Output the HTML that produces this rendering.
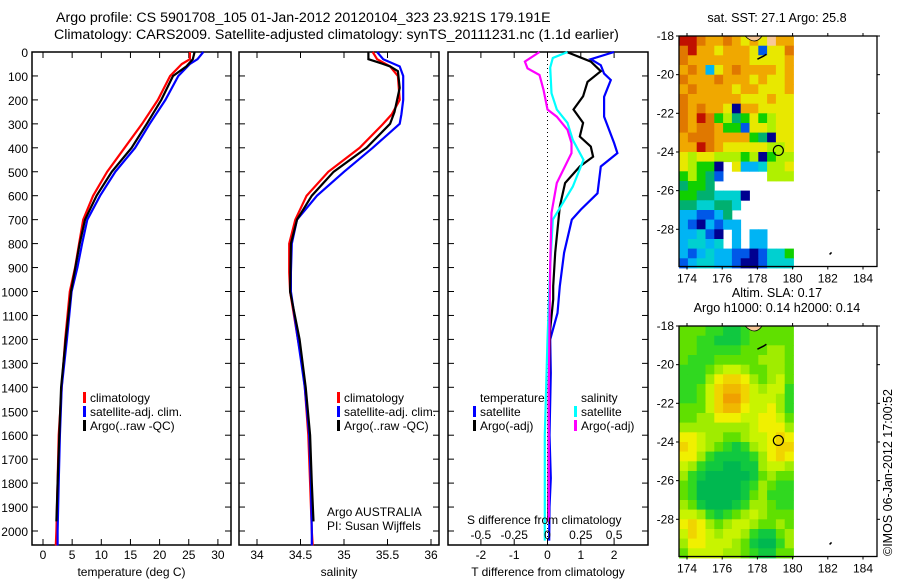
<!DOCTYPE html>
<html><head><meta charset="utf-8">
<style>
html,body{margin:0;padding:0;background:#fff;}
svg{display:block;font-family:"Liberation Sans",sans-serif;}
text{font-size:12px;fill:#000;}
</style></head>
<body>
<svg id="fig" width="900" height="580" viewBox="0 0 900 580" xmlns="http://www.w3.org/2000/svg">
<text x="56" y="22" style="font-size:14.2px">Argo profile: CS 5901708_105 01-Jan-2012 20120104_323 23.921S 179.191E</text>
<text x="54" y="39" style="font-size:14.2px">Climatology: CARS2009. Satellite-adjusted climatology: synTS_20111231.nc (1.1d earlier)</text>
<g id="g1"></g>
<g id="g2"></g>
<g id="g3"></g>
<g id="m1"></g>
<g id="m2"></g>
<text transform="translate(892,556) rotate(-90)" style="font-size:12.5px">©IMOS 06-Jan-2012 17:00:52</text>
</svg>
<script>
// ---- profile data (depth m) ----
const tDepth=[0,30,50,100,200,300,400,500,600,700,800,900,1000,1200,1400,1600,1800,2000,2060];
const tClim=[25.2,25.2,23.8,21.8,19.7,17,14,11,8.6,6.9,6.2,5.5,4.6,3.8,3.2,2.7,2.5,2.3,2.2];
const tSat=[27.5,26.5,25.2,23.2,21,18.3,15.8,12.4,9.8,7.6,6.7,5.9,4.9,4.1,3.2,2.9,2.7,2.5,2.5];
const argoDepth=[0,30,60,100,200,300,400,500,600,700,800,1000,1200,1400,1600,1800,1960];
const tArgo=[26,25.7,24.6,22.3,20.3,17.8,15.2,11.8,9.2,7.2,6.3,4.8,3.9,3.1,2.8,2.5,2.3];
const sDepth=[0,30,60,100,200,260,300,400,500,600,700,800,920,1000,1200,1300,1400,1600,1800,2000,2060];
const sClim=[35.33,35.38,35.53,35.62,35.64,35.55,35.45,35.18,34.82,34.57,34.44,34.37,34.37,34.38,34.47,34.52,34.55,34.59,34.61,34.63,34.64];
const sSat=[35.38,35.45,35.64,35.68,35.68,35.66,35.64,35.33,35.0,34.69,34.46,34.4,34.39,34.39,34.47,34.51,34.55,34.6,34.62,34.63,34.63];
const sArgoDepth=[0,30,45,60,80,150,250,300,400,500,600,700,800,1000,1200,1400,1600,1800,1960];
const sArgo=[35.28,35.28,35.41,35.53,35.62,35.64,35.58,35.53,35.26,34.88,34.63,34.46,34.39,34.38,34.49,34.56,34.61,34.63,34.65];
// differences
const dTDepth=[0,30,55,90,117,187,270,380,422,478,590,658,700,838,978,1090,1200,1340,1600,1780,1900,2040];
const dTSat=[2.0,1.3,1.6,1.7,1.9,1.7,1.7,2.0,2.1,1.6,1.5,1.0,0.73,0.5,0.37,0.3,0.08,0.1,0.06,0.1,0.06,0.05];
const dTArgoDepth=[0,40,80,125,185,240,296,353,395,437,478,547,645,838,978,1033,1158,1400,1800,1960];
const dTArgo=[0.58,1.3,1.6,1.2,1.07,0.78,1.07,0.97,1.3,1.37,0.97,0.53,0.37,0.23,0.17,0.17,0.08,0.04,0.03,0.02];
const dSDepth=[0,25,65,172,240,296,367,450,562,700,895,1200,1600,2040];
const dSSat=[0.15,0.04,0.02,0.03,0.07,0.15,0.19,0.27,0.19,0.04,0.02,0,-0.02,-0.02];
const dSArgoDepth=[0,40,68,96,158,240,270,325,380,422,547,672,895,1400,1960];
const dSArgo=[-0.06,-0.17,-0.15,-0.06,-0.03,0,0.07,0.15,0.18,0.18,0.07,0.03,0.02,0.01,0.01];
const depthTicks=[0,100,200,300,400,500,600,700,800,900,1000,1100,1200,1300,1400,1500,1600,1700,1800,1900,2000];
const tTicks=[0,5,10,15,20,25,30];
const sTicks=[34,34.5,35,35.5,36];
const dTTicks=[-2,-1,0,1,2];
const dSTicks=[-0.5,-0.25,0,0.25,0.5];
// ---- map data: 0.5 deg cells, lon 173.55.., lat -18.. ----
const sstRows=[
"aa98898787L88","9a88788871779","9888888877778","8982789888878","9888988878778","8988887887778",
"9888888777877","9898870887777","98a9564575677","9899855177677","8999888854077","88a9877777667",
"7677666560566","76550.7223667","56541.....666","4554.........","55443330.....","4433443......",
"221124.......","2102122......","22310.2.22...","23323.2.22...","2123221101335","1233221001333"];
const slaRows=[
"3332211233333","3322111233333","3322222333443","3222333334443","2223455433443","2224677643453",
"2235788754552","2235799755542","3335788655642","3344666556653","4444444456664","6654433455676",
"7654321245677","6642111124676","5421100114554","4210000013433","3200000124322","3200000134222",
"4310001244322","5542123454333","6764345543343","5765455421134","4665554310024","3555544321133"];
const sstPal={"0":"#000090","1":"#0058e8","2":"#00b4f4","3":"#00d0d0","4":"#00b070","5":"#10d000","6":"#b0f000","7":"#e8e800","8":"#f0a800","9":"#e07800","a":"#c01000","L":"#f8c898"};
const slaPal=["#00b850","#10c840","#30d820","#60e000","#a0ec00","#c8f400","#f0f000","#f0d400","#f0b800","#f0a000"];
const lonTicks=[174,176,178,180,182,184];
const latTicks=[-18,-20,-22,-24,-26,-28];
const argoLon=179.191, argoLat=-23.921;

const NS="http://www.w3.org/2000/svg";
function mk(parent,tag,attrs,txt){const e=document.createElementNS(NS,tag);for(const k in attrs)e.setAttribute(k,attrs[k]);if(txt!==undefined)e.textContent=txt;parent.appendChild(e);return e;}
const Y0=52, PY=0.2395, BOT=545;
const yD=d=>Y0+d*PY;

function panel(g,x0,x1,sx,xt,xtl,title,depthLabels){
  const f=mk(g,'rect',{x:x0,y:Y0,width:x1-x0,height:BOT-Y0,fill:'none',stroke:'#000','stroke-width':1.5});
  
  depthTicks.forEach(d=>{
    const y=yD(d);
    mk(g,'line',{x1:x0,x2:x0+6,y1:y,y2:y,stroke:'#000'});
    mk(g,'line',{x1:x1-6,x2:x1,y1:y,y2:y,stroke:'#000'});
    if(depthLabels){const t=mk(g,'text',{x:x0-4,y:y+5,'text-anchor':'end'},d);
      }
  });
  xt.forEach((v,i)=>{const x=sx(v);
    mk(g,'line',{x1:x,x2:x,y1:BOT-6,y2:BOT,stroke:'#000'});
    mk(g,'line',{x1:x,x2:x,y1:Y0,y2:Y0+6,stroke:'#000'});
    const t=mk(g,'text',{x:x,y:559,'text-anchor':'middle'},xtl?xtl[i]:v);
    });
  const tt=mk(g,'text',{x:(x0+x1)/2,y:576,'text-anchor':'middle'},title);
  
}
function line(g,xs,ds,sx,col,name,w){
  const pts=xs.map((v,i)=>sx(v).toFixed(1)+','+yD(ds[i]).toFixed(1)).join(' ');
  const p=mk(g,'polyline',{points:pts,fill:'none',stroke:col,'stroke-width':w||2.2,'stroke-linejoin':'miter'});
  
}
function legend(g,x,y,items){
  items.forEach((it,i)=>{
    if(it[0])mk(g,'rect',{x:x,y:y+i*14-10,width:3,height:11,fill:it[0]});
    const t=mk(g,'text',{x:x+7,y:y+i*14},it[1]);
    
  });
}
// panel 1
const g1=document.getElementById('g1');
const sxT=v=>43+5.83*v;
panel(g1,32,231,sxT,tTicks,null,'temperature (deg C)',true);
line(g1,tClim,tDepth,sxT,'#ff0000','temp-climatology-line');
line(g1,tSat,tDepth,sxT,'#0000ff','temp-satellite-line');
line(g1,tArgo,argoDepth,sxT,'#000000','temp-argo-line');
legend(g1,83,402,[['#f00','climatology'],['#00f','satellite-adj. clim.'],['#000','Argo(..raw -QC)']]);
// panel 2
const g2=document.getElementById('g2');
const sxS=v=>257+87*(v-34);
panel(g2,239,439,sxS,sTicks,null,'salinity',false);
line(g2,sClim,sDepth,sxS,'#ff0000','sal-climatology-line');
line(g2,sSat,sDepth,sxS,'#0000ff','sal-satellite-line');
line(g2,sArgo,sArgoDepth,sxS,'#000000','sal-argo-line');
legend(g2,337,402,[['#f00','climatology'],['#00f','satellite-adj. clim.'],['#000','Argo(..raw -QC)']]);
mk(g2,'text',{x:327,y:516},'Argo AUSTRALIA');
mk(g2,'text',{x:327,y:530},'PI: Susan Wijffels');
// panel 3
const g3=document.getElementById('g3');
const sxdT=v=>547.5+33.3*v, sxdS=v=>547.5+133.2*v;
panel(g3,448,648,sxdT,dTTicks,null,'T difference from climatology',false);
mk(g3,'line',{x1:sxdT(0),x2:sxdT(0),y1:Y0,y2:BOT,stroke:'#000','stroke-dasharray':'1,3'});
line(g3,dTSat,dTDepth,sxdT,'#0000ff','dT-satellite-line');
line(g3,dTArgo,dTArgoDepth,sxdT,'#000000','dT-argo-line');
line(g3,dSSat,dSDepth,sxdS,'#00ffff','dS-satellite-line');
line(g3,dSArgo,dSArgoDepth,sxdS,'#ff00ff','dS-argo-line');
legend(g3,473,402,[[null,'temperature'],['#00f','satellite'],['#000','Argo(-adj)']]);
legend(g3,574,402,[[null,'salinity'],['#0ff','satellite'],['#f0f','Argo(-adj)']]);
mk(g3,'text',{x:467,y:524},'S difference from climatology');
dSTicks.forEach(v=>{const t=mk(g3,'text',{x:sxdS(v),y:539,'text-anchor':'middle'},v);
  });

// maps
function map(id,top,rows,palFn,titleLines){
  const g=document.getElementById(id);
  const L=679,R=877,B=top+230.5;
  const sx=lo=>687+17.6*(lo-174), sy=la=>top+19.33*(-18-la);
  rows.forEach((row,r)=>{[...row].forEach((c,ci)=>{
    if(c==='.')return;
    const lo=173.55+ci*0.5, la=-18-r*0.5;
    const x=sx(lo), y=sy(la);
    const rc=mk(g,'rect',{x:x.toFixed(1),y:y.toFixed(1),width:9.2,height:10.1,fill:palFn(c)});
    
  });});
  // land
  mk(g,'path',{d:`M${sx(177.3)} ${top} q${10} 10 ${17} 0 z`,fill:'#f8c898',stroke:'#000','stroke-width':0.8});
  mk(g,'path',{d:`M${sx(178)} ${sy(-19.2)} l6 -3 l3 -2`,stroke:'#000','stroke-width':1.5,fill:'none'});
  mk(g,'path',{d:`M${sx(182.1)} ${sy(-29.3)} l2 -2`,stroke:'#000','stroke-width':1.5,fill:'none'});
  const fr=mk(g,'rect',{x:L,y:top,width:R-L,height:B-top,fill:'none',stroke:'#000','stroke-width':1.3});
  
  lonTicks.forEach(lo=>{const x=sx(lo);
    mk(g,'line',{x1:x,x2:x,y1:top-3,y2:top,stroke:'#000'});
    mk(g,'line',{x1:x,x2:x,y1:B,y2:B+3,stroke:'#000'});
    const t=mk(g,'text',{x:x,y:B+16,'text-anchor':'middle'},lo);
    });
  latTicks.forEach(la=>{const y=sy(la);
    mk(g,'line',{x1:L-3,x2:L,y1:y,y2:y,stroke:'#000'});
    mk(g,'line',{x1:R,x2:R+3,y1:y,y2:y,stroke:'#000'});
    const t=mk(g,'text',{x:L-5,y:y+4,'text-anchor':'end'},la);
    });
  const c=mk(g,'circle',{cx:sx(argoLon),cy:sy(argoLat),r:5,fill:'none',stroke:'#000','stroke-width':1.2});
  
  titleLines.forEach((s,i)=>{const t=mk(g,'text',{x:777,y:top-14-(titleLines.length-1-i)*15,'text-anchor':'middle',style:'font-size:12.6px'},s);
    });
}
map('m1',36,sstRows,c=>sstPal[c],['sat. SST: 27.1 Argo: 25.8']);
map('m2',326,slaRows,c=>slaPal[+c],['Altim. SLA: 0.17','Argo h1000: 0.14 h2000: 0.14']);
</script>
</body></html>
